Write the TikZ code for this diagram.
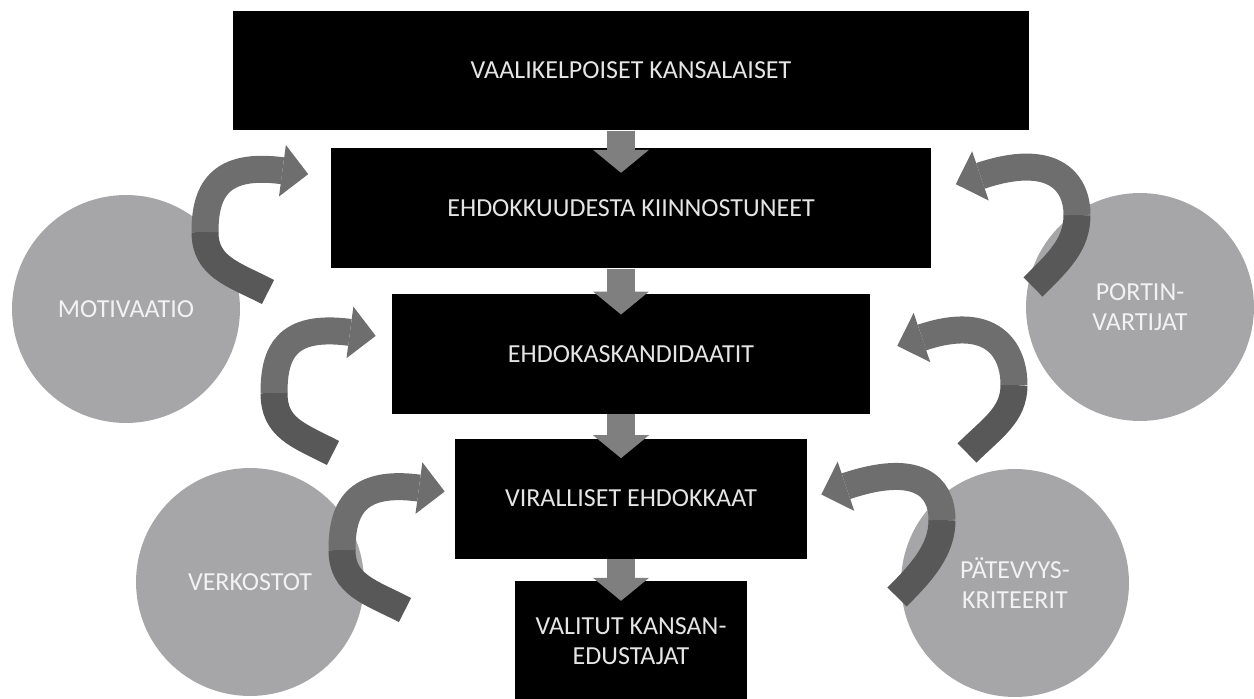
\documentclass[tikz,border=0pt]{standalone}
\usepackage{fontspec}
\setmainfont{Carlito}
\usetikzlibrary{positioning,arrows.meta}

\definecolor{circlegray}{RGB}{166,165,167}
\definecolor{stepgray}{RGB}{127,127,127}
\definecolor{ribbondark}{RGB}{88,88,88}
\definecolor{ribbonlight}{RGB}{110,110,110}

\begin{document}
\begin{tikzpicture}[x=0.02cm, y=-0.02cm,
    stage/.style={shape=rectangle, fill=black, text=white!90!black, minimum height=2.4cm,
        inner sep=0pt, align=center, font=\fontsize{14.8}{16.8}\selectfont},
    factor/.style={shape=circle, fill=circlegray, text=white!95!black, minimum size=4.56cm,
        inner sep=0pt, align=center, font=\fontsize{14.8}{17.2}\selectfont},
    downarrow/.style={draw=stepgray, line width=0.56cm,
        -{Triangle[width=1.12cm, length=0.46cm, line width=0pt]}},
    ribbon/.style={draw=ribbondark, line width=0.54cm},
    ribbonhead/.style={draw=ribbonlight, line width=0.54cm,
        -{Triangle[width=1.04cm, length=0.52cm, line width=0pt]}}]
    \useasboundingbox (0,0) rectangle (1254,699);

    % the funnel
    \node[stage, minimum width=15.92cm] (kansalaiset) at (631,70.5) {VAALIKELPOISET KANSALAISET};
    \node[stage, minimum width=12.02cm] (kiinnostuneet) [below=0.34cm of kansalaiset] {EHDOKKUUDESTA KIINNOSTUNEET};
    \node[stage, minimum width=9.56cm] (kandidaatit) [below=0.5cm of kiinnostuneet] {EHDOKASKANDIDAATIT};
    \node[stage, minimum width=7.04cm] (ehdokkaat) [below=0.48cm of kandidaatit] {VIRALLISET EHDOKKAAT};
    \node[stage, minimum width=4.64cm] (valitut) [below=0.44cm of ehdokkaat] {VALITUT KANSAN-\\EDUSTAJAT};

    % factors
    \node[factor] (motivaatio) at (126,309) {MOTIVAATIO};
    \node[factor] (verkostot) at (250,582) {VERKOSTOT};
    \node[factor] (portinvartijat) at (1140,307) {PORTIN-\\VARTIJAT};
    \node[factor] (patevyys) at (1015,583) {PÄTEVYYS-\\KRITEERIT};

    \draw[downarrow] ([shift={(-10,0)}]kansalaiset.south) -- ([shift={(-10,25)}]kiinnostuneet.north);
    \draw[downarrow] ([shift={(-10,0)}]kiinnostuneet.south) -- ([shift={(-10,21)}]kandidaatit.north);
    \draw[downarrow] ([shift={(-10,0)}]kandidaatit.south) -- ([shift={(-10,20)}]ehdokkaat.north);
    \draw[downarrow] ([shift={(-10,0)}]ehdokkaat.south) -- ([shift={(-10,20)}]valitut.north);

    % curved arrows, left side
    \coordinate (kiinn-l) at (268,292);
    \coordinate (kiinn-l-turn) at (205,232);
    \coordinate (kand-l) at (333,453);
    \coordinate (kand-l-turn) at (274,393);
    \coordinate (ehd-l) at (405,610);
    \coordinate (ehd-l-turn) at (342,550);
    \draw[ribbon] (kiinn-l) .. controls +(-35,-18) and +(0,35) .. (kiinn-l-turn);
    \draw[ribbonhead] (kiinn-l-turn) .. controls +(0,-40) and +(-90,-12) .. ([shift={(-22,-34)}]kiinnostuneet.west);
    \draw[ribbon] (kand-l) .. controls +(-35,-18) and +(0,35) .. (kand-l-turn);
    \draw[ribbonhead] (kand-l-turn) .. controls +(0,-40) and +(-90,-12) .. ([shift={(-16,-18)}]kandidaatit.west);
    \draw[ribbon] (ehd-l) .. controls +(-35,-18) and +(0,35) .. (ehd-l-turn);
    \draw[ribbonhead] (ehd-l-turn) .. controls +(0,-40) and +(-90,-12) .. ([shift={(-10,-7)}]ehdokkaat.west);

    % curved arrows, right side
    \coordinate (kiinn-r) at (1033,287);
    \coordinate (kiinn-r-turn) at (1077,215);
    \coordinate (kand-r) at (967,453);
    \coordinate (kand-r-turn) at (1014,385);
    \coordinate (ehd-r) at (897,597);
    \coordinate (ehd-r-turn) at (942,520);
    \draw[ribbon] (kiinn-r) .. controls +(25,-25) and +(0,30) .. (kiinn-r-turn);
    \draw[ribbonhead] (kiinn-r-turn) .. controls +(0,-35) and +(95,-32) .. ([shift={(24,-24)}]kiinnostuneet.east);
    \draw[ribbon] (kand-r) .. controls +(25,-25) and +(0,30) .. (kand-r-turn);
    \draw[ribbonhead] (kand-r-turn) .. controls +(0,-35) and +(95,-32) .. ([shift={(27,-8)}]kandidaatit.east);
    \draw[ribbon] (ehd-r) .. controls +(25,-25) and +(0,30) .. (ehd-r-turn);
    \draw[ribbonhead] (ehd-r-turn) .. controls +(0,-35) and +(95,-32) .. ([shift={(14,-4)}]ehdokkaat.east);
\end{tikzpicture}
\end{document}
